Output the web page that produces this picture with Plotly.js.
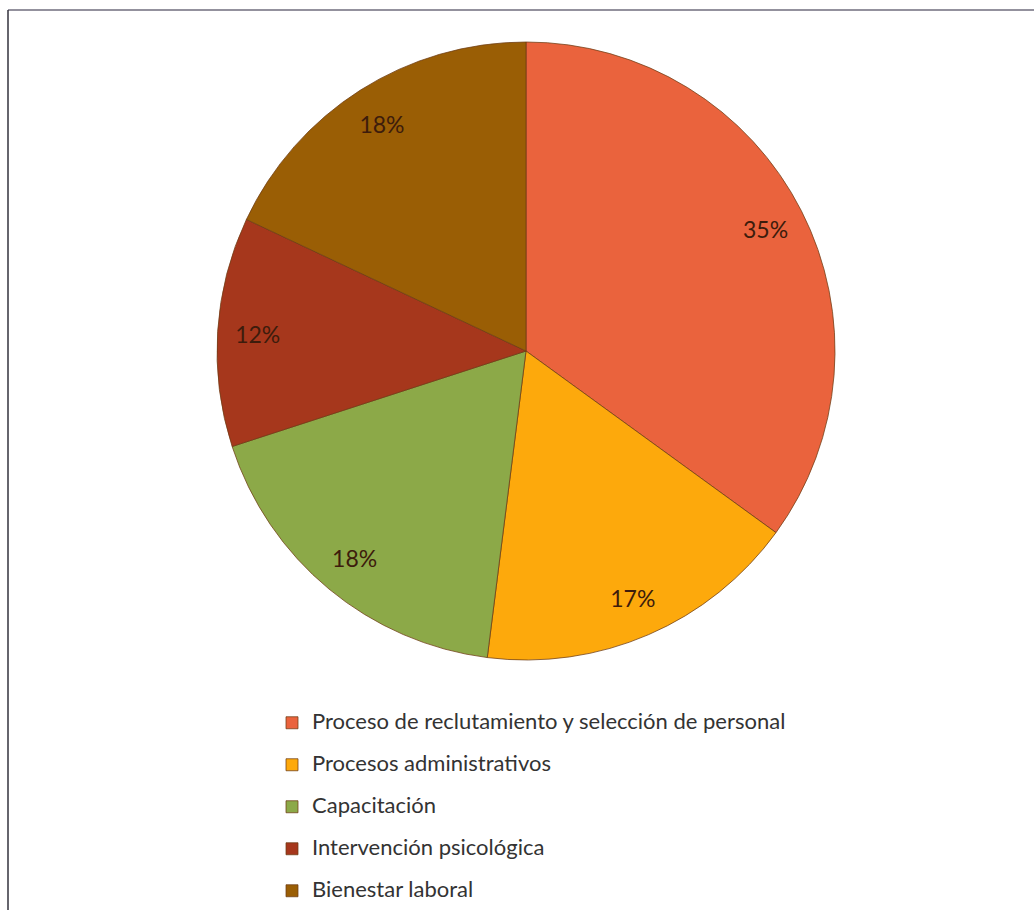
<!DOCTYPE html>
<html>
<head>
<meta charset="utf-8">
<script src="https://cdn.plot.ly/plotly-3.0.1.min.js"></script>
<style>html,body{margin:0;padding:0;background:#fff;}#chart{width:1034px;height:910px;}</style>
</head>
<body>
<div id="chart"></div>
<script>
// ---- data ----
const categories = [
  "Proceso de reclutamiento y selección de personal",
  "Procesos administrativos",
  "Capacitación",
  "Intervención psicológica",
  "Bienestar laboral"
];
const values = [35, 17, 18, 12, 18];
const sliceColors = ["#EA633D", "#FDA90C", "#8CA948", "#A6371C", "#9A5E05"];

// ---- styling helpers ----
const W = 1034, H = 910;
const cx = 526, cy = 351, r = 309;
const domX = [(cx - r) / W, (cx + r) / W];
const domY = [1 - (cy + r) / H, 1 - (cy - r) / H];

// empty spacer line above each entry gives the wide legend row spacing
const legendLabels = categories.map(c => '\u00a0<br><span style="font-size:22px">' + c + '</span>');

const pieMain = {
  type: 'pie',
  labels: legendLabels,
  values: values,
  sort: false,
  direction: 'clockwise',
  rotation: 0,
  domain: {x: domX, y: domY},
  marker: {colors: sliceColors, line: {color: 'rgba(110,60,20,0.75)', width: 1}},
  textinfo: 'none',
  hoverinfo: 'skip',
  showlegend: true
};

const pieText = {
  type: 'pie',
  labels: legendLabels,
  values: values,
  sort: false,
  direction: 'clockwise',
  rotation: 0,
  hole: 0.74,
  domain: {x: domX, y: domY},
  marker: {colors: values.map(() => 'rgba(0,0,0,0)'), line: {width: 0}},
  textinfo: 'percent',
  texttemplate: '%{percent:.0%}',
  textposition: 'inside',
  insidetextorientation: 'horizontal',
  textfont: {family: 'Lato, sans-serif', size: 23, color: '#3d1c0c'},
  hoverinfo: 'skip',
  showlegend: false
};

const layout = {
  width: W, height: H,
  margin: {l: 0, r: 0, t: 0, b: 0},
  paper_bgcolor: '#ffffff',
  showlegend: true,
  legend: {
    x: 272 / W, xanchor: 'left',
    y: 1 - 687 / H, yanchor: 'top',
    orientation: 'v',
    valign: 'bottom',
    font: {family: 'Lato, sans-serif', size: 15, color: '#333333'},
    bgcolor: 'rgba(0,0,0,0)'
  },
  shapes: [
    {type: 'line', xref: 'paper', yref: 'paper', x0: 8 / W, x1: 1, y0: 1 - 10 / H, y1: 1 - 10 / H,
     line: {color: '#6f6c7c', width: 1.5}},
    {type: 'line', xref: 'paper', yref: 'paper', x0: 8 / W, x1: 8 / W, y0: 0, y1: 1 - 10 / H,
     line: {color: '#33323d', width: 1.5}}
  ]
};

Plotly.newPlot('chart', [pieMain, pieText], layout, {displayModeBar: false, staticPlot: true});
</script>
</body>
</html>
